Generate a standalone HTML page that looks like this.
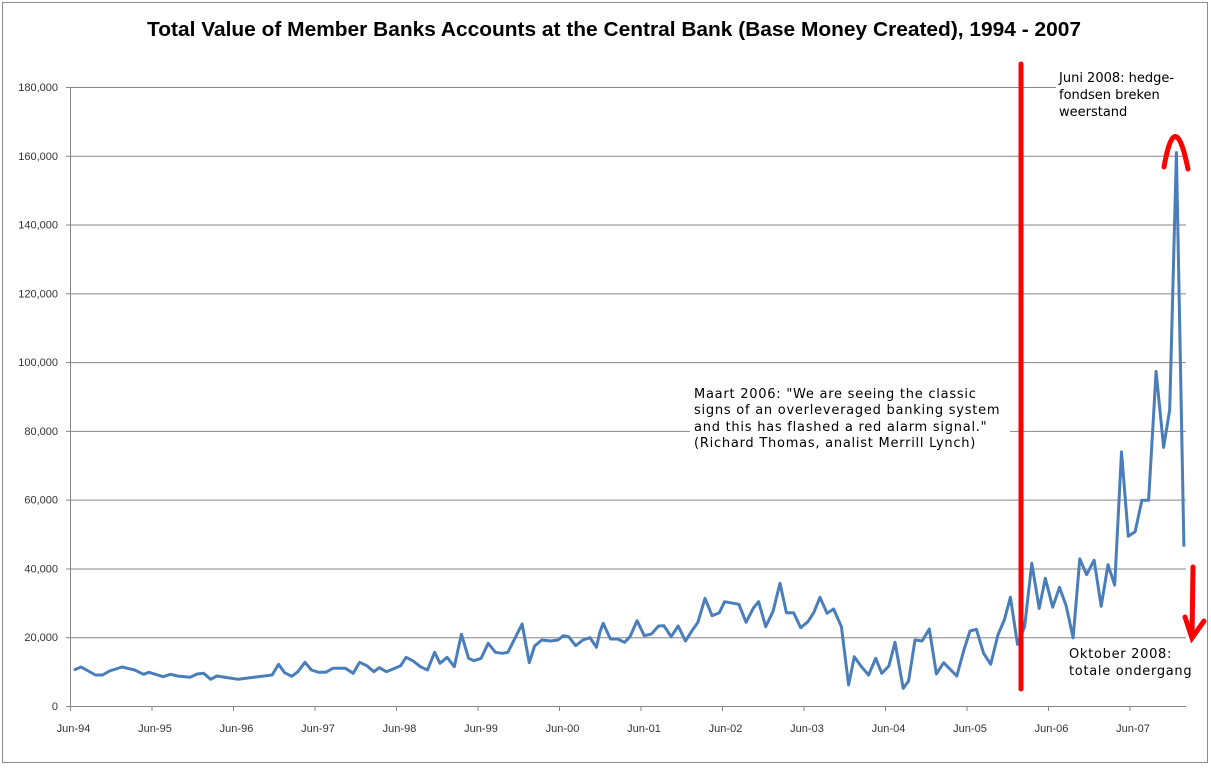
<!DOCTYPE html>
<html><head><meta charset="utf-8"><style>
body{margin:0;background:#fff}
svg{display:block}
</style></head><body>
<svg id="s" width="1211" height="768" xmlns="http://www.w3.org/2000/svg" font-family="Liberation Sans, sans-serif">
<rect x="2.5" y="2.5" width="1205" height="760" fill="#fff" stroke="#8c8c8c"/>
<text x="614" y="36" text-anchor="middle" font-size="20.5" font-weight="bold" fill="#000" textLength="934" lengthAdjust="spacingAndGlyphs">Total Value of Member Banks Accounts at the Central Bank (Base Money Created), 1994 - 2007</text>
<g id="grid" stroke="#868686" stroke-width="1"></g>
<g id="ylab" font-size="11" fill="#333" text-anchor="end"></g>
<g id="xlab" font-size="11" fill="#333" text-anchor="middle"></g>
<rect x="690" y="380" width="320" height="70" fill="#fff"/>
<rect x="1056" y="70" width="130" height="50" fill="#fff"/>
<polyline id="line" fill="none" stroke="#4a7ebb" stroke-width="3" stroke-linejoin="round"/>
<g font-family="DejaVu Sans, sans-serif" font-size="13" fill="#000">
<g letter-spacing="0.75">
<text x="694" y="398">Maart 2006: "We are seeing the classic</text>
<text x="694" y="414">signs of an overleveraged banking system</text>
<text x="694" y="431">and this has flashed a red alarm signal."</text>
<text x="694" y="447">(Richard Thomas, analist Merrill Lynch)</text>
</g>
<text x="1059" y="82">Juni 2008: hedge-</text>
<text x="1059" y="99">fondsen breken</text>
<text x="1059" y="116">weerstand</text>
<g letter-spacing="0.7">
<text x="1069" y="658">Oktober 2008:</text>
<text x="1069" y="675">totale ondergang</text>
</g>
</g>
<g stroke="#f00" fill="none" stroke-linecap="round" stroke-width="5">
<line x1="1021" y1="64" x2="1021" y2="689"/>
<path d="M1164,167 Q1175,105 1188,169"/>
<path d="M1193,567 L1192,638 M1185,617 L1192,638 L1204,621"/>
</g>
</svg>
<script>
var g=document.getElementById('grid'),yl=document.getElementById('ylab'),xl=document.getElementById('xlab');
var ns='http://www.w3.org/2000/svg';
function el(t,a,p,txt){var e=document.createElementNS(ns,t);for(var k in a)e.setAttribute(k,a[k]);if(txt!=null)e.textContent=txt;p.appendChild(e);return e;}
for(var i=0;i<=9;i++){var y=706-i*68.78;
 if(i>0)el('line',{x1:70,x2:1186,y1:y+.5,y2:y+.5},g);
 el('line',{x1:66,x2:70,y1:y+.5,y2:y+.5},g);
 el('text',{x:58,y:y+4},yl,i==0?'0':(i*20)+',000');}
el('line',{x1:70.5,x2:70.5,y1:87,y2:706},g);
el('line',{x1:70,x2:1186,y1:706.5,y2:706.5},g);
var yrs=['94','95','96','97','98','99','00','01','02','03','04','05','06','07'];
for(var i=0;i<14;i++){var x=70.5+i*81.5;el('line',{x1:x,x2:x,y1:706,y2:711},g);el('text',{x:x+3,y:732},xl,'Jun-'+yrs[i]);}
var z1=[[95,390],[115,381],[155,405],[175,405],[195,393],[230,381],[265,390],[290,403],[305,397],[345,410],[365,403],[385,408],[420,412],[440,402],[458,400],[478,418],[495,408],[555,418],[650,405],[668,373],[685,398],[705,409],[722,395],[742,367],[760,390],[780,397],[800,397],[820,385],[855,385],[877,400],[895,367],[915,377],[935,395],[950,383],[970,395],[1010,377],[1025,352],[1045,363],[1065,380],[1085,390],[1105,337],[1120,370],[1140,352],[1160,380],[1180,283],[1200,355],[1215,362],[1235,355],[1255,310],[1275,337],[1295,340],[1310,337],[1350,252],[1370,368],[1385,318],[1405,300],[1430,303],[1450,300],[1465,287],[1480,290],[1500,317],[1520,300],[1540,293],[1558,322],[1568,275]];
var z2=[[345,250],[365,297],[385,297],[405,307],[420,290],[440,242],[460,287],[480,282],[500,258],[515,257],[535,290],[555,258],[575,303],[595,270],[610,247],[630,175],[650,227],[670,218],[685,185],[725,193],[745,247],[765,205],[780,185],[800,260],[820,215],[840,130],[858,218],[878,218],[898,263],[918,245],[935,217],[952,172],[972,220],[990,207],[1012,260],[1032,435],[1048,350],[1068,380],[1088,405],[1108,355],[1125,400],[1145,378],[1162,307],[1185,445],[1200,423],[1218,300],[1238,303],[1258,267],[1278,402],[1298,368],[1335,408],[1355,330],[1372,273],[1390,268],[1410,340],[1430,373],[1450,285],[1468,240],[1485,172],[1505,313],[1525,260],[1545,70]];
var z3=[[145,1215],[163,1148],[185,1212],[205,1168],[225,1210],[245,1280],[265,1105],[285,1140],[307,1108],[328,1210],[348,1118],[368,1163],[388,868],[408,1055],[428,1045],[448,975],[468,975],[490,690],[512,858],[530,775],[550,205],[572,1078]];
var pts=[];
z1.forEach(function(p){pts.push((40+p[0]/2.8).toFixed(1)+','+(540+p[1]/3).toFixed(1));});
z2.forEach(function(p){pts.push((480+p[0]/2.8).toFixed(1)+','+(540+p[1]/3).toFixed(1));});
z3.forEach(function(p){pts.push((990+p[0]/2.95).toFixed(1)+','+(60+p[1]/2.215).toFixed(1));});
document.getElementById('line').setAttribute('points',pts.join(' '));
</script>
</body></html>
